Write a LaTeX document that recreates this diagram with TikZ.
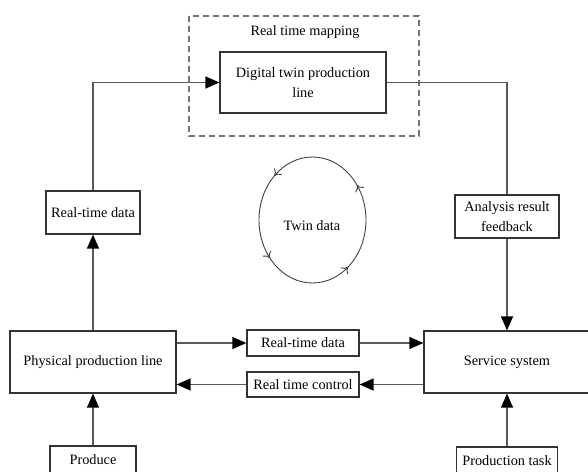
\documentclass[tikz,border=0pt]{standalone}
\usepackage{fontspec}
\setmainfont{Liberation Serif}
\usetikzlibrary{arrows.meta,decorations.markings,calc}
\begin{document}
\begin{tikzpicture}[x=1pt,y=-1pt,
  txt/.style={font=\fontsize{14.3}{20.5}\selectfont, align=center, inner sep=0pt},
  box/.style={txt, draw=black!80, line width=1.2pt},
  conn/.style={draw=black!65, line width=1.3pt},
  arr/.style={conn, -{Triangle[length=14pt,width=12pt,color=black]}},
  loopar/.style={draw=black!75, line width=0.9pt},
  looptip/.style={}
]
\useasboundingbox (0,0) rectangle (588,471);
\clip (0,0) rectangle (588,471);
% dashed mapping frame
\draw[draw=black!55, line width=1.1pt, dash pattern=on 6pt off 4pt] (189,16) rectangle (419,136);
\node[txt] (maplabel) at (305,32) {Real time mapping};
% nodes
\node[box, minimum width=166pt, minimum height=61pt] (dt) at (303,82.5) {Digital twin production\\line};
\node[box, minimum width=94pt, minimum height=43pt] (rtd1) at (93,212.5) {Real-time data};
\node[box, minimum width=104pt, minimum height=43pt] (arf) at (507,216.5) {Analysis result\\feedback};
\node[box, minimum width=166pt, minimum height=62pt] (phys) at (93,362) {Physical production line};
\node[box, minimum width=112pt, minimum height=26pt] (rtd2) at (303,343) {Real-time data};
\node[box, minimum width=112pt, minimum height=25pt] (rtc) at (303,384.5) {Real time control};
\node[box, minimum width=166pt, minimum height=62pt] (serv) at (507,362) {Service system};
\node[box, minimum width=86pt, minimum height=28pt] (prod) at (93,460) {Produce};
\node[box, minimum width=101pt, minimum height=28pt] (ptask) at (507,461) {Production task};
% twin data loop
\node[txt] (twin) at (312,226) {Twin data};
\draw[loopar, postaction={decorate}, decoration={markings,
    mark=at position 0.14 with {\arrowreversed{To[length=6pt,width=10pt]}},
    mark=at position 0.39 with {\arrowreversed{To[length=6pt,width=10pt]}},
    mark=at position 0.63 with {\arrowreversed{To[length=6pt,width=10pt]}},
    mark=at position 0.90 with {\arrowreversed{To[length=6pt,width=10pt]}}}]
  (312.5,220) ellipse [x radius=53.5, y radius=63];
% connectors
\draw[arr] (phys.north) -- (rtd1.south);
\draw[arr] (rtd1.north) |- (dt.west);
\draw[conn] (dt.east) -| (arf.north);
\draw[arr] (arf.south) -- (serv.north);
\draw[arr] (phys.east |- rtd2.west) -- (rtd2.west);
\draw[arr] (rtd2.east) -- (serv.west |- rtd2.east);
\draw[arr] (serv.west |- rtc.east) -- (rtc.east);
\draw[arr] (rtc.west) -- (phys.east |- rtc.west);
\draw[arr] (prod.north) -- (phys.south);
\draw[arr] (ptask.north) -- (serv.south);
\end{tikzpicture}
\end{document}
